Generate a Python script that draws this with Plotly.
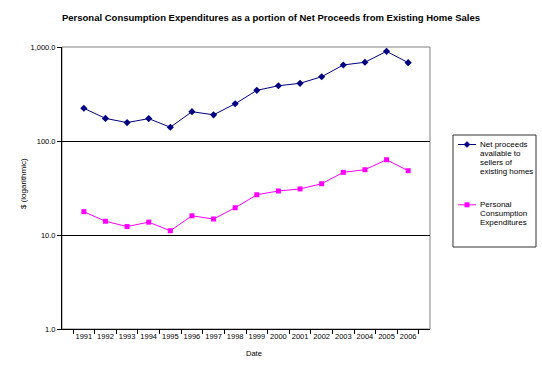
import plotly.graph_objects as go

years = [str(y) for y in range(1991, 2007)]
net_proceeds = [223, 174, 157, 173, 140, 205, 190, 249, 346, 387, 411, 483, 644, 688, 900, 681]
pce = [17.7, 14.0, 12.3, 13.7, 11.1, 16.0, 14.8, 19.5, 26.8, 29.4, 30.9, 35.1, 46.4, 49.5, 63.2, 48.3]
y_tickvals = [1, 10, 100, 1000]
y_ticktext = ["1.0", "10.0", "100.0", "1,000.0"]
legend_net = ["Net proceeds", "available to", "sellers of", "existing homes"]
legend_pce = ["Personal", "Consumption", "Expenditures"]

FONT = "Liberation Sans, Arial, sans-serif"
NAVY = "#000080"
MAGENTA = "#FF00FF"

W, H = 542, 370
L, R, T, B = 62, 112, 47, 41
PW, PH = W - L - R, H - T - B


def px(x):
    return (x - L) / PW


def py(y):
    return (H - B - y) / PH


fig = go.Figure()
fig.add_trace(go.Scatter(
    x=years, y=net_proceeds, mode="lines+markers", name=" ".join(legend_net),
    line=dict(color=NAVY, width=1),
    marker=dict(symbol="diamond", size=5.5, color=NAVY),
))
fig.add_trace(go.Scatter(
    x=years, y=pce, mode="lines+markers", name=" ".join(legend_pce),
    line=dict(color=MAGENTA, width=1),
    marker=dict(symbol="square", size=5, color=MAGENTA),
))

# plot frame (grey top/right)
fig.add_shape(type="rect", xref="x domain", yref="y domain", x0=0, x1=1, y0=0, y1=1,
              line=dict(color="#808080", width=1), layer="below")

# custom legend box
fig.add_shape(type="rect", xref="paper", yref="paper",
              x0=px(453), x1=px(536), y0=py(135), y1=py(247),
              line=dict(color="#333333", width=1), fillcolor="white", layer="above")

annotations = []


def legend_entry(ly, color, symbol, lines):
    fig.add_shape(type="line", xref="paper", yref="paper",
                  x0=px(458), x1=px(476), y0=py(ly), y1=py(ly),
                  line=dict(color=color, width=1))
    cx = 467
    if symbol == "diamond":
        path = (f"M {px(cx - 3)} {py(ly)} L {px(cx)} {py(ly - 3)} "
                f"L {px(cx + 3)} {py(ly)} L {px(cx)} {py(ly + 3)} Z")
        fig.add_shape(type="path", xref="paper", yref="paper", path=path,
                      fillcolor=color, line=dict(color=color, width=0.5))
    else:
        fig.add_shape(type="rect", xref="paper", yref="paper",
                      x0=px(cx - 2.5), x1=px(cx + 2.5), y0=py(ly - 2.5), y1=py(ly + 2.5),
                      fillcolor=color, line=dict(color=color, width=0))
    for i, t in enumerate(lines):
        annotations.append(dict(
            text=t, xref="paper", yref="paper", x=px(478), y=py(ly + 9 * i),
            xanchor="left", yanchor="middle", showarrow=False,
            font=dict(size=8, family=FONT, color="black")))


legend_entry(144.5, NAVY, "diamond", legend_net)
legend_entry(204.8, MAGENTA, "square", legend_pce)

# axis titles
annotations.append(dict(text="Date", xref="paper", yref="paper", x=px(254), y=py(353),
                        xanchor="center", yanchor="middle", showarrow=False,
                        font=dict(size=7.5, family=FONT)))
annotations.append(dict(text="$ (logarithmic)", xref="paper", yref="paper", x=px(23), y=py(184),
                        xanchor="center", yanchor="middle", showarrow=False, textangle=-90,
                        font=dict(size=8, family=FONT)))

fig.update_layout(
    width=W, height=H,
    margin=dict(l=L, r=R, t=T, b=B, autoexpand=False),
    paper_bgcolor="white", plot_bgcolor="white",
    font=dict(family=FONT, size=8, color="black"),
    title=dict(text="<b>Personal Consumption Expenditures as a portion of Net Proceeds from Existing Home Sales</b>",
               x=0.5, xref="container", xanchor="center", y=1 - 18 / H, yref="container", yanchor="middle",
               font=dict(size=9.5, family=FONT)),
    showlegend=False,
    annotations=annotations,
    xaxis=dict(type="category", showline=True, linecolor="black", linewidth=1,
               ticks="outside", ticklen=4, tickcolor="black", tickson="boundaries",
               tickangle=0, automargin=False,
               showgrid=False, tickfont=dict(size=7.5)),
    yaxis=dict(type="log", range=[0, 3], tickvals=y_tickvals, ticktext=y_ticktext,
               showline=True, linecolor="black", linewidth=1,
               ticks="outside", ticklen=4, tickcolor="black", automargin=False,
               showgrid=True, gridcolor="black", gridwidth=1, zeroline=False,
               tickfont=dict(size=7.5)),
)

fig.write_html("out.html", config={"displayModeBar": False},
               post_script="document.body.style.margin='0';document.body.style.padding='0';")
